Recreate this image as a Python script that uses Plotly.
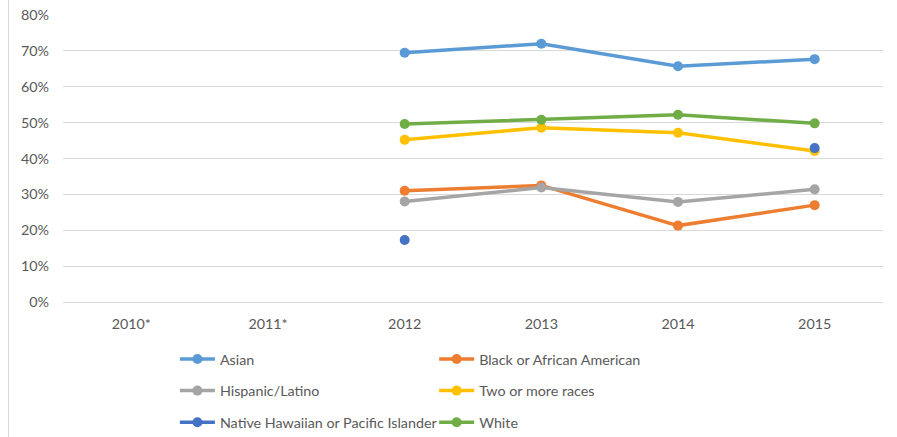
import plotly.graph_objects as go

years = ["2010*", "2011*", "2012", "2013", "2014", "2015"]
asian = [None, None, 69.5, 72.0, 65.7, 67.7]
black = [None, None, 31.0, 32.5, 21.3, 27.0]
hispanic = [None, None, 28.0, 31.9, 27.9, 31.4]
two_more = [None, None, 45.2, 48.6, 47.2, 42.1]
nhpi = [None, None, 17.3, None, None, 42.9]
white = [None, None, 49.6, 50.8, 52.2, 49.8]

series = [
    ("Asian", asian, "#5B9BD5", "legend"),
    ("Black or African American", black, "#ED7D31", "legend2"),
    ("Hispanic/Latino", hispanic, "#A5A5A5", "legend"),
    ("Two or more races", two_more, "#FFC000", "legend2"),
    ("Native Hawaiian or Pacific Islander", nhpi, "#4472C4", "legend"),
    ("White", white, "#70AD47", "legend2"),
]

fig = go.Figure()
for name, vals, color, lg in series:
    fig.add_trace(go.Scatter(
        x=years, y=vals, name=name, mode="lines+markers",
        line=dict(color=color, width=3.5),
        marker=dict(color=color, size=10),
        connectgaps=False, legend=lg, legendgroup=name,
    ))

font = dict(family="Lato, Carlito, sans-serif", size=14.3, color="#595959")
legend_common = dict(
    orientation="v", traceorder="grouped", tracegroupgap=10,
    font=font, bgcolor="rgba(0,0,0,0)", xanchor="left", yanchor="top",
    itemwidth=35, xref="container", yref="container",
)
fig.update_layout(
    width=897, height=437,
    margin=dict(l=63, r=14, t=15, b=135, autoexpand=False),
    paper_bgcolor="white", plot_bgcolor="white",
    font=font,
    showlegend=True,
    legend=dict(x=0.195, y=0.2146, **legend_common),
    legend2=dict(x=0.484, y=0.2146, **legend_common),
    xaxis=dict(
        type="category", range=[-0.5, 5.5], showgrid=False, zeroline=False,
        showline=False, ticks="", tickfont=font, ticklabelstandoff=12,
    ),
    yaxis=dict(
        range=[0, 80], dtick=10, ticksuffix="%",
        showgrid=True, gridcolor="#D9D9D9", gridwidth=1,
        zeroline=True, zerolinecolor="#D9D9D9", zerolinewidth=1,
        showline=False, ticks="", tickfont=font, ticklabelstandoff=13,
    ),
    shapes=[dict(
        type="line", xref="paper", yref="paper",
        x0=-0.0665, x1=-0.0665, y0=-0.5, y1=1.1,
        line=dict(color="#D9D9D9", width=1),
    )],
)

fig.write_html(
    "out.html",
    config={"displayModeBar": False},
    post_script="document.body.style.margin='0';document.body.style.overflow='hidden';",
)
